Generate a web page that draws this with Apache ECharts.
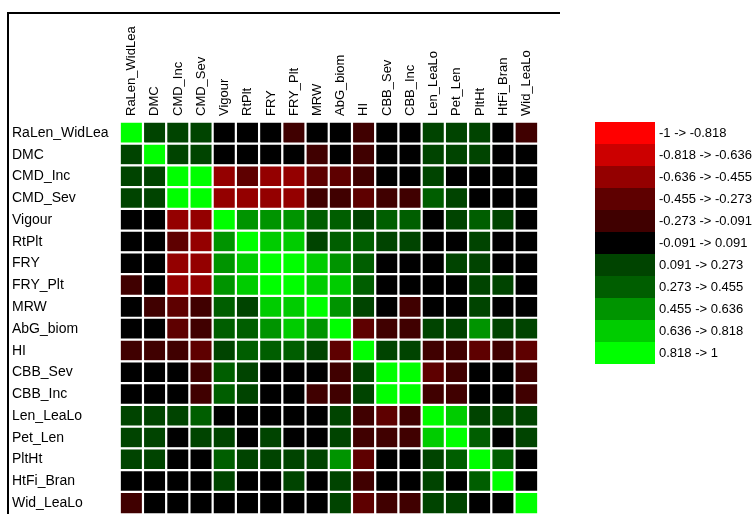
<!DOCTYPE html>
<html>
<head>
<meta charset="utf-8">
<script src="https://cdn.jsdelivr.net/npm/echarts@6/dist/echarts.min.js"></script>
<style>html,body{margin:0;padding:0;background:#fff;}#main{width:754px;height:514px;}</style>
</head>
<body>
<div id="main"></div>
<script>
var vars = ['RaLen_WidLea', 'DMC', 'CMD_Inc', 'CMD_Sev', 'Vigour', 'RtPlt', 'FRY', 'FRY_Plt', 'MRW',
    'AbG_biom', 'HI', 'CBB_Sev', 'CBB_Inc', 'Len_LeaLo', 'Pet_Len', 'PltHt', 'HtFi_Bran', 'Wid_LeaLo'];

// 相关系数矩阵（按颜色分档估读）
var corr = [
    [1, .18, .18, .18, 0, 0, 0, -.18, 0, 0, -.18, 0, 0, .18, .18, .18, 0, -.18],
    [.18, 1, .18, .18, 0, 0, 0, 0, -.18, 0, -.18, 0, 0, .18, .18, .18, 0, 0],
    [.18, .18, 1, 1, -.55, -.36, -.55, -.55, -.36, -.36, -.18, 0, 0, .18, 0, 0, 0, 0],
    [.18, .18, 1, 1, -.55, -.55, -.55, -.55, -.18, -.18, -.36, -.18, -.18, .36, .18, 0, 0, 0],
    [0, 0, -.55, -.55, 1, .55, .55, .55, .36, .36, .18, .36, .36, 0, .18, .36, .18, 0],
    [0, 0, -.36, -.55, .55, 1, .73, .73, .18, .36, .36, .18, .18, 0, 0, .18, 0, 0],
    [0, 0, -.55, -.55, .55, .73, 1, 1, .73, .55, .36, 0, 0, 0, .18, .18, 0, 0],
    [-.18, 0, -.55, -.55, .55, .73, 1, 1, .73, .73, .36, 0, 0, 0, 0, .18, .18, 0],
    [0, -.18, -.36, -.18, .36, .18, .73, .73, 1, .55, .18, 0, -.18, 0, 0, .18, 0, 0],
    [0, 0, -.36, -.18, .36, .36, .55, .73, .55, 1, -.36, -.18, -.18, .18, .18, .55, .18, .18],
    [-.18, -.18, -.18, -.36, .18, .36, .36, .36, .18, -.36, 1, .18, .18, -.18, -.18, -.36, -.18, -.36],
    [0, 0, 0, -.18, .36, .18, 0, 0, 0, -.18, .18, 1, 1, -.36, -.18, 0, 0, -.18],
    [0, 0, 0, -.18, .36, .18, 0, 0, -.18, -.18, .18, 1, 1, -.18, -.18, 0, 0, -.18],
    [.18, .18, .18, .36, 0, 0, 0, 0, 0, .18, -.18, -.36, -.18, 1, .73, .18, .18, .18],
    [.18, .18, 0, .18, .18, 0, .18, 0, 0, .18, -.18, -.18, -.18, .73, 1, .36, 0, .18],
    [.18, .18, 0, 0, .36, .18, .18, .18, .18, .55, -.36, 0, 0, .18, .36, 1, .36, 0],
    [0, 0, 0, 0, .18, 0, 0, .18, 0, .18, -.18, 0, 0, .18, 0, .36, 1, 0],
    [-.18, 0, 0, 0, 0, 0, 0, 0, 0, .18, -.36, -.18, -.18, .18, .18, 0, 0, 1]
];

var breaks = [-1, -0.818, -0.636, -0.455, -0.273, -0.091, 0.091, 0.273, 0.455, 0.636, 0.818, 1];
var binColors = ['#ff0000', '#cc0000', '#940000', '#5e0000', '#400000', '#000000',
    '#004400', '#005e00', '#009400', '#00cc00', '#00ff00'];

var data = [];
for (var i = 0; i < vars.length; i++) {
    for (var j = 0; j < vars.length; j++) {
        data.push([j, i, corr[i][j]]);
    }
}
var pieces = [];
for (var k = 0; k < binColors.length; k++) {
    pieces.push({gte: breaks[k], lt: breaks[k + 1] + (k == binColors.length - 1 ? 0.001 : 0),
        label: breaks[k] + ' -> ' + breaks[k + 1], color: binColors[k]});
}

var chart = echarts.init(document.getElementById('main'));
chart.setOption({
    animation: false,
    textStyle: {fontFamily: 'Liberation Sans, Arial, sans-serif'},
    grid: {left: 120, top: 122, width: 418, height: 396},
    xAxis: {
        type: 'category', data: vars, position: 'top',
        axisLine: {show: false}, axisTick: {show: false}, splitLine: {show: false},
        axisLabel: {rotate: -90, color: '#000', fontSize: 13, margin: 6, interval: 0}
    },
    yAxis: {
        type: 'category', data: vars, inverse: true,
        axisLine: {show: false}, axisTick: {show: false}, splitLine: {show: false},
        axisLabel: {color: '#000', fontSize: 14, align: 'left', margin: 108, interval: 0}
    },
    visualMap: {
        type: 'piecewise', pieces: pieces, orient: 'vertical', inverse: true, align: 'left',
        left: 580, top: 107, itemWidth: 60, itemHeight: 22, itemGap: 0, itemSymbol: 'rect',
        textGap: 4, textStyle: {color: '#000', fontSize: 13}, selectedMode: false
    },
    graphic: [
        {type: 'line', shape: {x1: 7, y1: 13, x2: 560, y2: 13}, style: {stroke: '#000', lineWidth: 2}},
        {type: 'line', shape: {x1: 8, y1: 12, x2: 8, y2: 514}, style: {stroke: '#000', lineWidth: 2}}
    ],
    series: [{
        type: 'heatmap', data: data,
        itemStyle: {borderColor: '#fff', borderWidth: 2.2}
    }]
});
</script>
</body>
</html>
